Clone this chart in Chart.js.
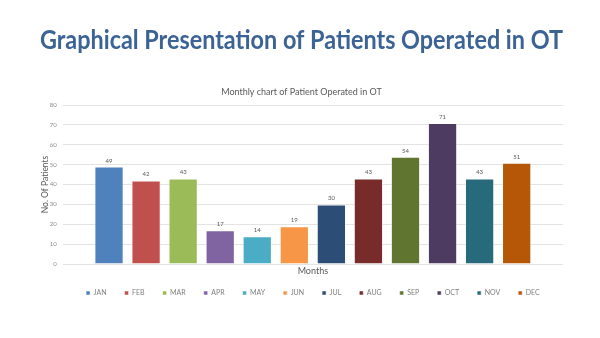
<!DOCTYPE html>
<html lang="en">
<head>
    <meta charset="UTF-8">
    <title>Patients Operated in OT</title>
    <script src="https://cdn.jsdelivr.net/npm/chart.js"></script>
    <style>
        html, body {
            margin: 0;
            padding: 0;
            background: white;
        }
        .chart-box {
            width: 600px;
            height: 338px;
        }
    </style>
</head>
<body>
    <div class="chart-box">
        <canvas id="otChart"></canvas>
    </div>
    <script>
        const months = ['JAN', 'FEB', 'MAR', 'APR', 'MAY', 'JUN', 'JUL', 'AUG', 'SEP', 'OCT', 'NOV', 'DEC'];
        const patients = [49, 42, 43, 17, 14, 19, 30, 43, 54, 71, 43, 51];
        const barColors = ['#4F81BD', '#C0504D', '#9BBB59', '#8064A2', '#4BACC6', '#F79646',
                           '#2C4D75', '#772C2A', '#5F7530', '#4D3B62', '#276A7C', '#B65708'];
        const yTicks = [0, 10, 20, 30, 40, 50, 60, 70, 80];

        Chart.defaults.font.family = 'Lato, "Liberation Sans", sans-serif';
        Chart.defaults.color = '#595959';

        // one dataset per month so every month gets its own legend entry
        const datasets = months.map((m, i) => ({
            label: m,
            data: [{ x: i, y: patients[i] }],
            backgroundColor: barColors[i],
            borderColor: 'rgba(255, 255, 255, 0.5)',
            borderWidth: 1,
            grouped: false,
            categoryPercentage: 1,
            barPercentage: 0.79
        }));

        // value labels above the bars
        const valueLabels = {
            id: 'valueLabels',
            afterDatasetsDraw(chart) {
                const ctx = chart.ctx;
                ctx.save();
                ctx.font = '6px Lato, "Liberation Sans", sans-serif';
                ctx.fillStyle = '#595959';
                ctx.textAlign = 'center';
                ctx.textBaseline = 'bottom';
                chart.data.datasets.forEach((ds, i) => {
                    const bar = chart.getDatasetMeta(i).data[0];
                    ctx.fillText(ds.data[0].y, bar.x, bar.y - 3);
                });
                ctx.restore();
            }
        };

        new Chart(document.getElementById('otChart'), {
            type: 'bar',
            data: { datasets: datasets },
            plugins: [valueLabels],
            options: {
                responsive: true,
                maintainAspectRatio: false,
                animation: false,
                layout: {
                    padding: { left: 40, right: 37, top: 0, bottom: 31.5 }
                },
                plugins: {
                    title: {
                        display: true,
                        text: 'Graphical Presentation of Patients Operated in OT',
                        color: '#3B6396',
                        font: { size: 26, weight: 'bold' },
                        padding: { top: 25, bottom: 0 }
                    },
                    subtitle: {
                        display: true,
                        text: 'Monthly chart of Patient Operated in OT',
                        color: '#595959',
                        font: { size: 9 },
                        padding: { top: 30, bottom: 8 }
                    },
                    legend: {
                        position: 'bottom',
                        fullSize: false,
                        labels: {
                            boxWidth: 4,
                            boxHeight: 4,
                            padding: 18,
                            color: '#7f7f7f',
                            font: { size: 7 }
                        }
                    },
                    tooltip: { enabled: false }
                },
                scales: {
                    x: {
                        type: 'linear',
                        min: -1.25,
                        max: 12.25,
                        offset: false,
                        ticks: { display: false },
                        grid: { display: false, drawTicks: false },
                        border: { display: false },
                        title: {
                            display: true,
                            text: 'Months',
                            color: '#595959',
                            font: { size: 9 },
                            padding: { top: 1.6, bottom: -4.9 }
                        }
                    },
                    y: {
                        min: 0,
                        max: 80,
                        afterBuildTicks: axis => {
                            axis.ticks = yTicks.map(v => ({ value: v }));
                        },
                        afterFit: axis => {
                            axis.width = 22.7;
                        },
                        ticks: {
                            color: '#8c8c8c',
                            padding: 6,
                            font: { size: 6 }
                        },
                        grid: { color: '#e3e3e3', drawTicks: false },
                        border: { display: false },
                        title: {
                            display: true,
                            text: 'No. Of Patients',
                            color: '#595959',
                            font: { size: 8.5 },
                            padding: { top: 0, bottom: 0 }
                        }
                    }
                }
            }
        });
    </script>
</body>
</html>
